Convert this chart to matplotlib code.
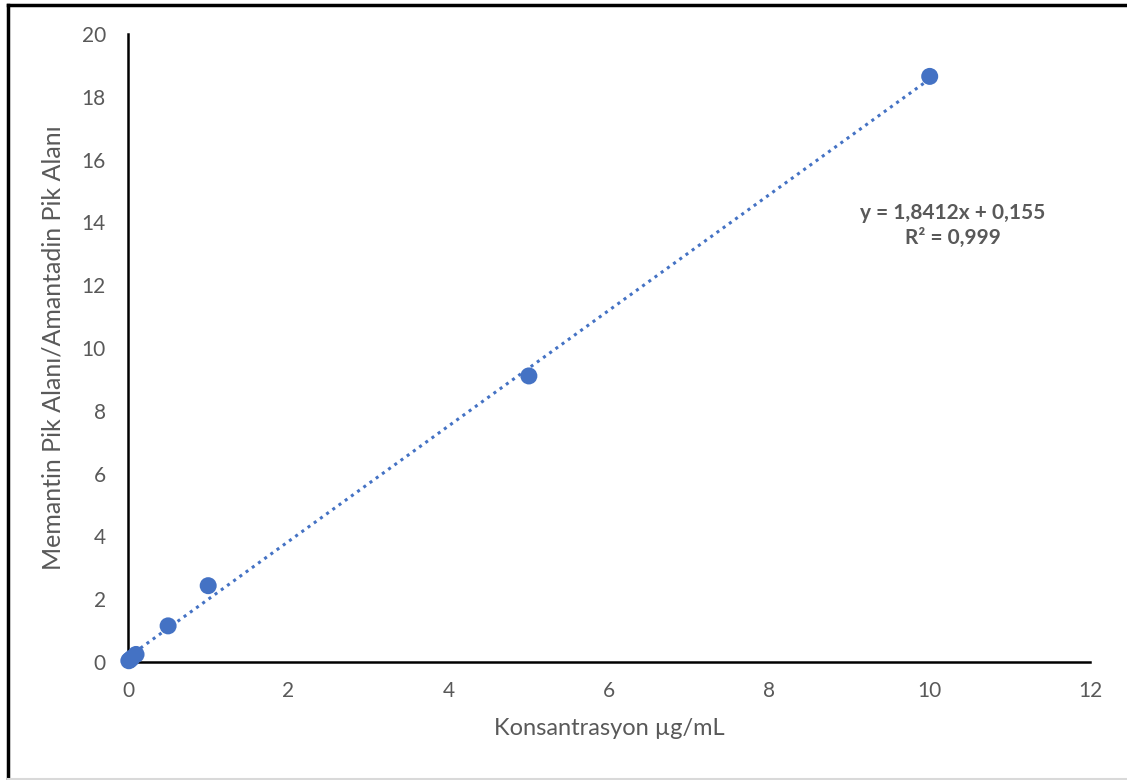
import matplotlib
matplotlib.use("Agg")
import matplotlib.pyplot as plt
import numpy as np
from matplotlib.lines import Line2D

conc = [0.01, 0.025, 0.05, 0.1, 0.5, 1, 5, 10]
ratio = [0.04, 0.07, 0.13, 0.24, 1.15, 2.43, 9.11, 18.65]
slope = 1.8412
intercept = 0.155
eq_text = "y = 1,8412x + 0,155\nR² = 0,999"
xticks = [0, 2, 4, 6, 8, 10, 12]
yticks = [0, 2, 4, 6, 8, 10, 12, 14, 16, 18, 20]

plt.rcParams['font.family'] = ['Lato', 'DejaVu Sans']
blue = '#4472C4'
gray = '#595959'

fig = plt.figure(figsize=(11.27, 7.8), dpi=100)
ax = fig.add_axes([0.1136, 0.1513, 0.8536, 0.8051])

tx = np.array([0, 10])
ax.plot(tx, slope * tx + intercept, linestyle=(0, (1, 1.5)), color=blue, lw=2.2, zorder=2)
ax.scatter(conc, ratio, s=150, color=blue, zorder=3, edgecolors='none', clip_on=False)

ax.set_xlim(0, 12)
ax.set_ylim(0, 20)
ax.set_xticks(xticks)
ax.set_yticks(yticks)
ax.tick_params(length=0, labelsize=15, colors=gray, pad=14)
ax.tick_params(axis='y', pad=16)
for s in ['top', 'right']:
    ax.spines[s].set_visible(False)
for s in ['left', 'bottom']:
    ax.spines[s].set_linewidth(1.8)
    ax.spines[s].set_color('black')
ax.set_xlabel("Konsantrasyon µg/mL", fontsize=17, color=gray, labelpad=12)
ax.set_ylabel("Memantin Pik Alanı/Amantadin Pik Alanı", fontsize=18, color=gray, labelpad=12)

ax.text(0.857, 0.695, eq_text, transform=ax.transAxes, ha='center', va='center',
        fontsize=15, fontweight='bold', color=gray, linespacing=1.3)

# outer frame (left and top)
fig.add_artist(Line2D([0.0075, 0.0075], [0.0, 0.9936], transform=fig.transFigure, color='black', lw=2.5))
fig.add_artist(Line2D([0.0075, 1.0], [0.9936, 0.9936], transform=fig.transFigure, color='black', lw=2.5))
fig.add_artist(Line2D([0.0075, 1.0], [0.0015, 0.0015], transform=fig.transFigure, color='#d9d9d9', lw=1.5))

fig.savefig("out.png", dpi=100)
